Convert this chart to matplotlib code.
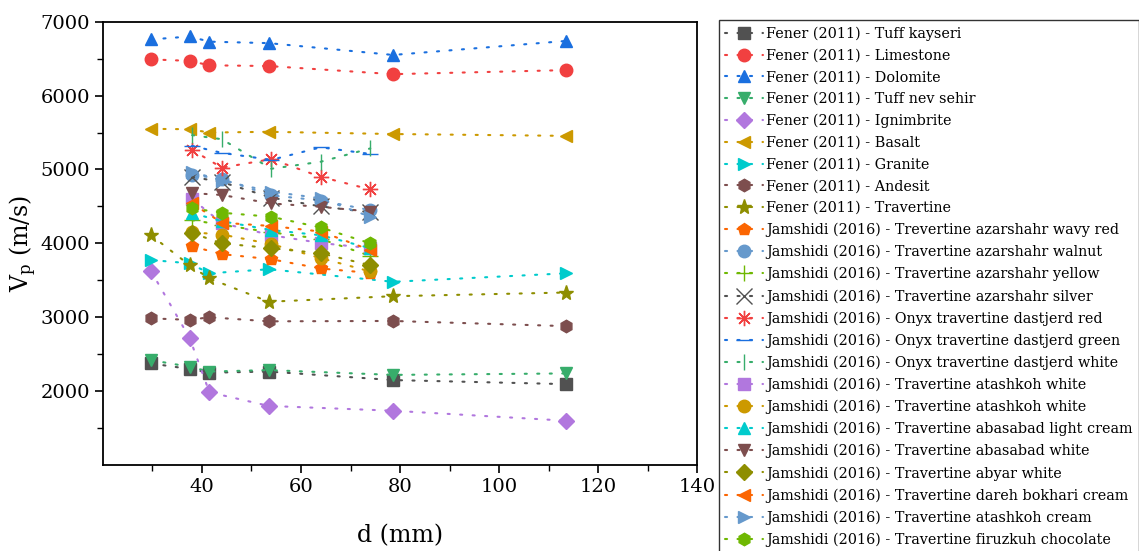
import matplotlib
matplotlib.use("Agg")
import matplotlib.pyplot as plt

plt.rcParams['font.family'] = ['DejaVu Serif']
plt.rcParams['mathtext.fontset'] = 'dejavuserif'

# sample diameters (mm)
d_fener = [29.7, 37.5, 41.5, 53.5, 78.6, 113.6]
d_jamshidi = [38, 44, 54, 64, 74]

# Fener (2011) - Vp (m/s)
tuff_kayseri = [2375, 2300, 2250, 2265, 2150, 2095]
limestone = [6490, 6470, 6410, 6400, 6290, 6345]
dolomite = [6760, 6800, 6730, 6710, 6550, 6740]
tuff_nev_sehir = [2420, 2330, 2265, 2285, 2220, 2240]
ignimbrite = [3625, 2720, 1985, 1800, 1735, 1600]
basalt = [5550, 5545, 5500, 5510, 5480, 5455]
granite = [3775, 3730, 3595, 3650, 3480, 3595]
andesit = [2985, 2965, 3000, 2945, 2950, 2880]
travertine = [4110, 3705, 3525, 3210, 3285, 3335]

# Jamshidi (2016) - Vp (m/s)
wavy_red = [3960, 3855, 3785, 3660, 3600]
walnut = [4930, 4870, 4650, 4580, 4450]
yellow = [4315, 4250, 4150, 4060, 3830]
silver = [4900, 4830, 4620, 4500, 4420]
onyx_red = [5265, 5025, 5140, 4900, 4730]
onyx_green = [5320, 5225, 5130, 5300, 5210]
onyx_white = [5465, 5410, 5010, 5105, 5285]
atashkoh_white_1 = [4600, 4275, 4110, 4005, 3935]
atashkoh_white_2 = [4150, 4120, 3990, 3800, 3620]
abasabad_light = [4410, 4300, 4180, 4110, 3935]
abasabad_white = [4680, 4655, 4540, 4495, 4430]
abyar_white = [4140, 4000, 3935, 3865, 3705]
dareh_bokhari = [4540, 4280, 4235, 4160, 3910]
atashkoh_cream = [4970, 4850, 4700, 4610, 4360]
firuzkuh = [4475, 4415, 4360, 4215, 4000]

series = [
    ("Fener (2011) - Tuff kayseri", d_fener, tuff_kayseri, 's', '#515151'),
    ("Fener (2011) - Limestone", d_fener, limestone, 'o', '#F14040'),
    ("Fener (2011) - Dolomite", d_fener, dolomite, '^', '#1A6FDF'),
    ("Fener (2011) - Tuff nev sehir", d_fener, tuff_nev_sehir, 'v', '#37AD6B'),
    ("Fener (2011) - Ignimbrite", d_fener, ignimbrite, 'D', '#B177DE'),
    ("Fener (2011) - Basalt", d_fener, basalt, '<', '#CC9900'),
    ("Fener (2011) - Granite", d_fener, granite, '>', '#00CBCC'),
    ("Fener (2011) - Andesit", d_fener, andesit, 'h', '#7D4E4E'),
    ("Fener (2011) - Travertine", d_fener, travertine, '*', '#8E8E00'),
    ("Jamshidi (2016) - Trevertine azarshahr wavy red", d_jamshidi, wavy_red, 'p', '#FB6501'),
    ("Jamshidi (2016) - Travertine azarshahr walnut", d_jamshidi, walnut, 'o', '#6699CC'),
    ("Jamshidi (2016) - Travertine azarshahr yellow", d_jamshidi, yellow, '+', '#6FB802'),
    ("Jamshidi (2016) - Travertine azarshahr silver", d_jamshidi, silver, 'x', '#515151'),
    ("Jamshidi (2016) - Onyx travertine dastjerd red", d_jamshidi, onyx_red, (8, 2, 0), '#F14040'),
    ("Jamshidi (2016) - Onyx travertine dastjerd green", d_jamshidi, onyx_green, '_', '#1A6FDF'),
    ("Jamshidi (2016) - Onyx travertine dastjerd white", d_jamshidi, onyx_white, '|', '#37AD6B'),
    ("Jamshidi (2016) - Travertine atashkoh white", d_jamshidi, atashkoh_white_1, 's', '#B177DE'),
    ("Jamshidi (2016) - Travertine atashkoh white", d_jamshidi, atashkoh_white_2, 'o', '#CC9900'),
    ("Jamshidi (2016) - Travertine abasabad light cream", d_jamshidi, abasabad_light, '^', '#00CBCC'),
    ("Jamshidi (2016) - Travertine abasabad white", d_jamshidi, abasabad_white, 'v', '#7D4E4E'),
    ("Jamshidi (2016) - Travertine abyar white", d_jamshidi, abyar_white, 'D', '#8E8E00'),
    ("Jamshidi (2016) - Travertine dareh bokhari cream", d_jamshidi, dareh_bokhari, '<', '#FB6501'),
    ("Jamshidi (2016) - Travertine atashkoh cream", d_jamshidi, atashkoh_cream, '>', '#6699CC'),
    ("Jamshidi (2016) - Travertine firuzkuh chocolate", d_jamshidi, firuzkuh, 'h', '#6FB802'),
]

fig = plt.figure(figsize=(11.39, 5.51), dpi=100)
ax = fig.add_axes([0.0904, 0.156, 0.5216, 0.8046])

for label, x, y, m, c in series:
    size = 9
    if m in ('D',):
        size = 8
    if m in ('*', (8, 2, 0), '+', 'x', '_', '|'):
        size = 11
    ax.plot(x, y, linestyle=(0, (1, 5)), linewidth=1.5, dash_capstyle='round',
            color=c, marker=m, markersize=size, markeredgewidth=1.0,
            markeredgecolor=c, markerfacecolor=c, label=label)

ax.set_xlim(20, 140)
ax.set_ylim(1000, 7000)
ax.set_xticks([40, 60, 80, 100, 120, 140])
ax.set_xticks([30, 50, 70, 90, 110, 130], minor=True)
ax.set_yticks([2000, 3000, 4000, 5000, 6000, 7000])
ax.set_yticks([1500, 2500, 3500, 4500, 5500, 6500], minor=True)
ax.tick_params(axis='both', which='major', direction='out', length=6, width=1.2,
               labelsize=14, top=False, right=False)
ax.tick_params(axis='both', which='minor', direction='out', length=4, width=1.0,
               top=False, right=False)
for s in ax.spines.values():
    s.set_linewidth(1.3)

ax.set_xlabel("d (mm)", fontsize=17, labelpad=20)
ax.set_ylabel(r"V$_\mathregular{p}$ (m/s)", fontsize=17, labelpad=1)

leg = ax.legend(loc='upper left', bbox_to_anchor=(0.631, 0.9637),
                bbox_transform=fig.transFigure, fontsize=10.4, frameon=True,
                fancybox=False, edgecolor='black', handlelength=2.6,
                handletextpad=0.25, labelspacing=0.535, borderaxespad=0,
                borderpad=0.45, numpoints=1)
leg.get_frame().set_linewidth(1.0)

fig.savefig("out.png", dpi=100)
